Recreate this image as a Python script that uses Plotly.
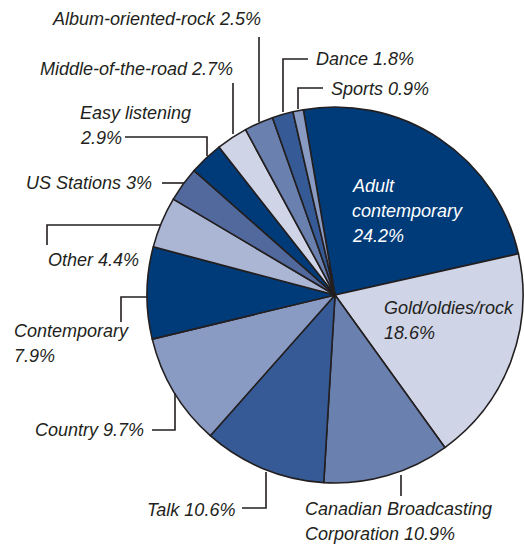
import plotly.graph_objects as go

# Radio listening share by format
formats = [
    "Adult contemporary", "Gold/oldies/rock", "Canadian Broadcasting Corporation",
    "Talk", "Country", "Contemporary", "Other", "US Stations", "Easy listening",
    "Middle-of-the-road", "Album-oriented-rock", "Dance", "Sports",
]
shares = [24.2, 18.6, 10.9, 10.6, 9.7, 7.9, 4.4, 3.0, 2.9, 2.7, 2.5, 1.8, 0.9]
share_text = ["24.2%", "18.6%", "10.9%", "10.6%", "9.7%", "7.9%", "4.4%", "3%",
              "2.9%", "2.7%", "2.5%", "1.8%", "0.9%"]

NAVY = "#003b79"
PALE = "#cfd4e7"
MID = "#6a80ae"
DEEP = "#365a95"
SOFT = "#8a9bc3"
LIGHT = "#aab6d4"
SLATE = "#52699d"
slice_colors = [NAVY, PALE, MID, DEEP, SOFT, NAVY, LIGHT, SLATE, NAVY, PALE, MID, DEEP, SOFT]

W, H = 524, 546
CX, CY, R = 335, 295, 188
INK = "#231f20"
FONT = "Liberation Sans, Arial, sans-serif"
FONT_SIZE = 18


def px(x):
    return x / W


def py(y):
    return 1 - y / H


fig = go.Figure(go.Pie(
    labels=formats,
    values=shares,
    sort=False,
    direction="clockwise",
    rotation=-9.7,
    marker=dict(colors=slice_colors, line=dict(color=INK, width=1.6)),
    textinfo="none",
    hoverinfo="label+value",
    domain=dict(x=[px(CX - R), px(CX + R)], y=[py(CY + R), py(CY - R)]),
    showlegend=False,
))

# label text layout: (text lines, anchor x, first-line centre y, x-anchor, colour)
label_layout = {
    "Adult contemporary": (["Adult", "contemporary", "24.2%"], 350, 186, "left", "white"),
    "Gold/oldies/rock": (["Gold/oldies/rock", "18.6%"], 382, 308, "left", INK),
    "Canadian Broadcasting Corporation": (["Canadian Broadcasting", "Corporation 10.9%"], 303, 509, "left", INK),
    "Talk": (["Talk 10.6%"], 237, 510, "right", INK),
    "Country": (["Country 9.7%"], 146, 430, "right", INK),
    "Contemporary": (["Contemporary", "7.9%"], 12, 331, "left", INK),
    "Other": (["Other 4.4%"], 46, 260, "left", INK),
    "US Stations": (["US Stations 3%"], 154, 183, "right", INK),
    "Easy listening": (["Easy listening", "2.9%"], 78, 113, "left", INK),
    "Middle-of-the-road": (["Middle-of-the-road 2.7%"], 235, 69, "right", INK),
    "Album-oriented-rock": (["Album-oriented-rock 2.5%"], 263, 19, "right", INK),
    "Dance": (["Dance 1.8%"], 314, 59, "left", INK),
    "Sports": (["Sports 0.9%"], 329, 89, "left", INK),
}

# leader-line paths, pixel coordinates
leaders = {
    "Canadian Broadcasting Corporation": [(401, 475), (401, 496)],
    "Talk": [(242, 508), (266, 508), (266, 472)],
    "Country": [(152, 430), (175, 430), (175, 393)],
    "Contemporary": [(121, 322), (121, 297), (148, 297)],
    "Other": [(47, 245), (47, 225), (160, 225)],
    "US Stations": [(162, 183), (184, 183)],
    "Easy listening": [(125, 137), (207, 137), (207, 156)],
    "Middle-of-the-road": [(233, 83), (233, 134)],
    "Album-oriented-rock": [(259, 37), (259, 122)],
    "Dance": [(308, 59), (283, 59), (283, 112)],
    "Sports": [(323, 88), (298, 88), (298, 109)],
}

LINE_GAP = 25
for name in formats:
    lines, x, y0, anchor, color = label_layout[name]
    for i, line in enumerate(lines):
        fig.add_annotation(
            x=px(x), y=py(y0 + i * LINE_GAP), xref="paper", yref="paper",
            text=f"<i>{line}</i>", showarrow=False,
            xanchor=anchor, yanchor="middle",
            font=dict(family=FONT, size=FONT_SIZE, color=color),
        )

for name, pts in leaders.items():
    path = "M " + " L ".join(f"{px(x)},{py(y)}" for x, y in pts)
    fig.add_shape(type="path", path=path, xref="paper", yref="paper",
                  line=dict(color=INK, width=1.6))

fig.update_layout(
    width=W, height=H,
    margin=dict(l=0, r=0, t=0, b=0),
    paper_bgcolor="white",
    plot_bgcolor="white",
)

fig.write_html("out.html")
